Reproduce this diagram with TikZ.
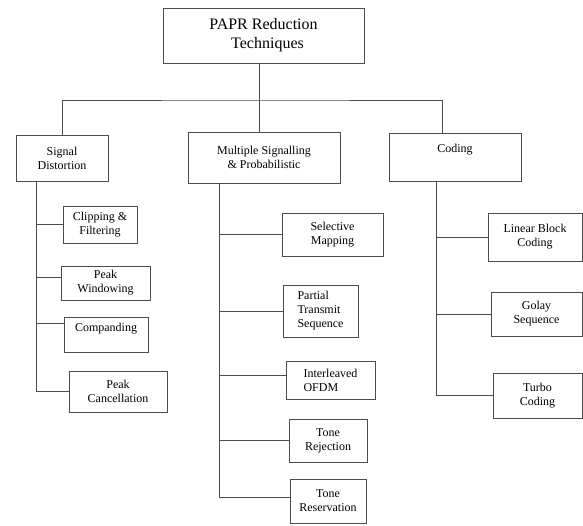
\documentclass[tikz,border=0pt]{standalone}
\usepackage{fontspec}
\setmainfont{Liberation Serif}
\definecolor{linha}{rgb}{0.3,0.3,0.3}
\tikzset{
  box/.style={draw=linha, line width=0.8pt, inner sep=0pt, align=center,
    font=\fontsize{12}{14}\selectfont},
  conn/.style={draw=linha, line width=0.8pt}
}
\begin{document}
\begin{tikzpicture}[x=1pt, y=-1pt]
    \useasboundingbox (0,0) rectangle (583,526);

    % top level
    \node[box, minimum width=201pt, minimum height=55pt, font=\fontsize{16}{19}\selectfont] (root) at (263.5,35.5) {PAPR Reduction\\ \ \ Techniques};
    \node[box, minimum width=92pt, minimum height=46pt] (sd) at (62,158) {Signal\\Distortion};
    \node[box, minimum width=152pt, minimum height=51pt] (ms) at (264,157.5) {Multiple Signalling\\\& Probabilistic};
    \node[box, minimum width=132pt, minimum height=48pt] (cod) at (455,157) {Coding\\[4pt]~};

    % signal distortion
    \node[box, minimum width=74pt, minimum height=37pt] (clip) at (100,224.5) {Clipping \&\\Filtering};
    \node[box, minimum width=89pt, minimum height=34pt] (pw) at (105.5,283) {Peak\\Windowing};
    \node[box, minimum width=84pt, minimum height=35pt] (comp) at (106,334.5) {Companding\\~};
    \node[box, minimum width=98pt, minimum height=41pt] (pc) at (118,391.5) {Peak\\Cancellation};

    % multiple signalling
    \node[box, minimum width=101pt, minimum height=43pt] (sm) at (332.5,234.5) {Selective\\Mapping};
    \node[box, minimum width=75pt, minimum height=52pt, align=left] (pts) at (320.5,311) {Partial\\Transmit\\Sequence};
    \node[box, minimum width=89pt, minimum height=38pt, align=left] (io) at (330.5,380) {Interleaved\\OFDM};
    \node[box, minimum width=78pt, minimum height=43pt] (tr) at (328,440.5) {Tone\\Rejection};
    \node[box, minimum width=76pt, minimum height=44pt] (tres) at (328,501) {Tone\\Reservation};

    % coding
    \node[box, minimum width=94pt, minimum height=48pt] (lbc) at (535,237) {Linear Block\\Coding};
    \node[box, minimum width=91pt, minimum height=44pt] (gs) at (536.5,314) {Golay\\Sequence};
    \node[box, minimum width=89pt, minimum height=45pt] (tc) at (537.5,395.5) {Turbo\\Coding};

    % bus under the root
    \coordinate (bus) at (259,100);
    \draw[conn] (root.south -| bus) -- (bus);
    \draw[conn] (sd.north) |- (bus) -| ([xshift=-13pt]cod.north);
    \draw[conn] (bus) -- (bus |- ms.north);

    % trunks
    \coordinate (sdt) at (36,181);
    \coordinate (mst) at (219,183);
    \coordinate (codt) at (436,181);

    \draw[conn] (sdt |- clip.west) -- (clip.west);
    \draw[conn] (sdt |- pw.west) ++(0,-6) -- ([yshift=6pt]pw.west);
    \draw[conn] (sdt |- comp.west) ++(0,-11) -- ([yshift=11pt]comp.west);
    \draw[conn] (sdt) |- (pc.west);

    \foreach \c in {sm,pts,tr}
        \draw[conn] (mst |- \c.west) -- (\c.west);
    \draw[conn] (mst |- io.west) ++(0,-5) -- ([yshift=5pt]io.west);
    \draw[conn] (mst) |- ([yshift=4pt]tres.west);

    \foreach \c in {lbc,gs}
        \draw[conn] (codt |- \c.west) -- (\c.west);
    \draw[conn] (codt) |- (tc.west);
\end{tikzpicture}
\end{document}
